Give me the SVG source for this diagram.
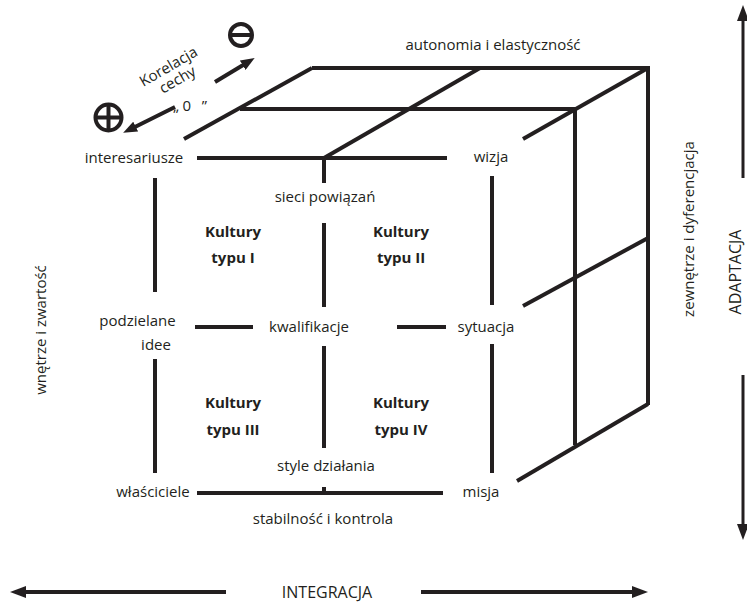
<svg xmlns="http://www.w3.org/2000/svg" width="747" height="603" viewBox="0 0 747 603">
<defs>
<style>
.cube line, .cube path { stroke:#231f20; stroke-width:4; fill:none; stroke-linecap:butt; stroke-linejoin:miter; }
.lbl { font-family:"Open Sans","Liberation Sans",sans-serif; font-size:15px; fill:#231f20; text-anchor:middle; }
.big { font-family:"Open Sans","Liberation Sans",sans-serif; font-size:16px; fill:#231f20; text-anchor:middle; }
.bold { font-family:"Open Sans","Liberation Sans",sans-serif; font-size:15px; font-weight:bold; fill:#231f20; text-anchor:middle; }
.small { font-family:"Open Sans","Liberation Sans",sans-serif; font-size:15px; fill:#231f20; text-anchor:middle; }
.axis { stroke:#231f20; stroke-width:4; fill:none; }
.axisv { stroke:#231f20; stroke-width:3; fill:none; }
.sym { stroke:#231f20; stroke-width:4; fill:none; }
</style>
<marker id="ah" markerUnits="userSpaceOnUse" viewBox="0 0 16 12" refX="2" refY="6" markerWidth="16" markerHeight="12" orient="auto">
<path d="M0,0 L16,6 L0,12 z" fill="#231f20"/>
</marker>
<marker id="ahs" markerUnits="userSpaceOnUse" viewBox="0 0 14 11" refX="2" refY="5.5" markerWidth="14" markerHeight="11" orient="auto">
<path d="M0,0 L14,5.5 L0,11 z" fill="#231f20"/>
</marker>
</defs>
<rect width="747" height="603" fill="#ffffff"/>

<g id="cube" class="cube">
<!-- top and right faces -->
<line x1="312" y1="68" x2="648" y2="68"/>
<line x1="240" y1="109" x2="575" y2="109"/>
<line x1="312" y1="68" x2="184" y2="139"/>
<line x1="480" y1="68" x2="324" y2="158"/>
<line x1="648" y1="68" x2="523" y2="139"/>
<line x1="648" y1="66" x2="648" y2="405"/>
<line x1="575" y1="107" x2="575" y2="445"/>
<line x1="648" y1="238" x2="523" y2="306"/>
<line x1="648" y1="404" x2="517" y2="481"/>
<!-- front face -->
<line x1="197" y1="158" x2="447" y2="158"/>
<line x1="324" y1="158" x2="324" y2="183"/>
<line x1="324" y1="223" x2="324" y2="307"/>
<line x1="324" y1="346" x2="324" y2="448"/>
<line x1="324" y1="487" x2="324" y2="493"/>
<line x1="155" y1="178" x2="155" y2="292"/>
<line x1="155" y1="359" x2="155" y2="473"/>
<line x1="492" y1="176" x2="492" y2="305"/>
<line x1="492" y1="344" x2="492" y2="473"/>
<line x1="195" y1="327" x2="253" y2="327"/>
<line x1="397" y1="327" x2="446" y2="327"/>
<line x1="197" y1="493" x2="443" y2="493"/>
</g>

<g id="connectors">
<line class="axis" x1="226" y1="592" x2="24" y2="592" marker-end="url(#ah)"/>
<line class="axis" x1="421" y1="592" x2="634" y2="592" marker-end="url(#ah)"/>
<line class="axisv" x1="743" y1="178" x2="743" y2="19" marker-end="url(#ah)"/>
<line class="axisv" x1="743" y1="375" x2="743" y2="526" marker-end="url(#ah)"/>
<line class="sym" x1="215" y1="82" x2="244.4" y2="64.2" marker-end="url(#ahs)"/>
<line class="sym" x1="175" y1="107" x2="133.9" y2="127.5" marker-end="url(#ahs)"/>
</g>

<g id="minus">
<circle class="sym" cx="241" cy="35" r="11"/>
<line class="sym" x1="230" y1="35" x2="252" y2="35"/>
</g>
<g id="plus">
<circle class="sym" cx="108.5" cy="117.5" r="13"/>
<line class="sym" x1="96" y1="117.5" x2="121" y2="117.5"/>
<line class="sym" x1="108.5" y1="105" x2="108.5" y2="130"/>
</g>

<g id="korelacja">
<text class="small" transform="translate(171,71) rotate(-30)">Korelacja</text>
<text class="small" transform="translate(180,84) rotate(-30)">cechy</text>
<text class="small" x="190" y="111" textLength="34">„0 ”</text>
</g>

<g id="n-autonomia"><text class="lbl" x="493" y="50">autonomia i elastyczność</text></g>
<g id="n-interesariusze"><text class="lbl" x="134" y="163">interesariusze</text></g>
<g id="n-wizja"><text class="lbl" x="491" y="162">wizja</text></g>
<g id="n-sieci"><text class="lbl" x="325" y="202">sieci powiązań</text></g>
<g id="n-k1"><text class="bold" x="233" y="237">Kultury</text><text class="bold" x="233" y="263">typu I</text></g>
<g id="n-k2"><text class="bold" x="401" y="237">Kultury</text><text class="bold" x="401" y="263">typu II</text></g>
<g id="n-podzielane"><text class="lbl" x="137.5" y="326">podzielane</text><text class="lbl" x="156" y="350">idee</text></g>
<g id="n-kwalifikacje"><text class="lbl" x="309" y="332">kwalifikacje</text></g>
<g id="n-sytuacja"><text class="lbl" x="486" y="332">sytuacja</text></g>
<g id="n-k3"><text class="bold" x="233" y="408">Kultury</text><text class="bold" x="233" y="435">typu III</text></g>
<g id="n-k4"><text class="bold" x="401" y="408">Kultury</text><text class="bold" x="401" y="435">typu IV</text></g>
<g id="n-style"><text class="lbl" x="326" y="471">style działania</text></g>
<g id="n-wlasciciele"><text class="lbl" x="153" y="497">właściciele</text></g>
<g id="n-misja"><text class="lbl" x="481" y="497">misja</text></g>
<g id="n-stabilnosc"><text class="lbl" x="323" y="524">stabilność i kontrola</text></g>
<g id="n-integracja"><text class="big" x="327" y="598">INTEGRACJA</text></g>
<g id="n-wnetrze"><text class="lbl" transform="translate(46,330) rotate(-90)">wnętrze i zwartość</text></g>
<g id="n-zewnetrze"><text class="lbl" transform="translate(694,229) rotate(-90)">zewnętrze i dyferencjacja</text></g>
<g id="n-adaptacja"><text class="big" transform="translate(741,272) rotate(-90)">ADAPTACJA</text></g>
</svg>
